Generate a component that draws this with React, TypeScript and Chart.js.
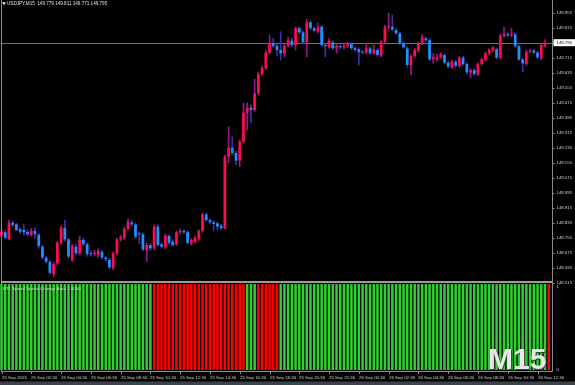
import React, { useEffect, useRef } from "react";
import { Chart, registerables } from "chart.js";

Chart.register(...registerables);

// ---------------- data ----------------
const symbolLabel = "USDJPY,M15";
const indicatorName = "BTL Speed Speed Change Area 1.0000";
const timeframeMark = "M15";

const opens = [
  148.769, 148.784, 148.748, 148.835, 148.826, 148.800, 148.796, 148.785, 148.769, 148.792,
  148.771, 148.707, 148.648, 148.627, 148.561, 148.618, 148.725, 148.808, 148.746, 148.636,
  148.707, 148.672, 148.743, 148.720, 148.672, 148.668, 148.663, 148.680, 148.648, 148.636,
  148.592, 148.672, 148.746, 148.752, 148.801, 148.837, 148.826, 148.778, 148.773, 148.689,
  148.716, 148.698, 148.814, 148.720, 148.704, 148.764, 148.734, 148.720, 148.784, 148.791,
  148.784, 148.725, 148.734, 148.746, 148.791, 148.880, 148.849, 148.837, 148.832, 148.819,
  148.805, 149.187, 149.235, 149.207, 149.166, 149.267, 149.422, 149.448, 149.436, 149.525,
  149.628, 149.660, 149.742, 149.793, 149.779, 149.756, 149.738, 149.779, 149.806, 149.783,
  149.872, 149.850, 149.797, 149.904, 149.872, 149.854, 149.880, 149.783, 149.770, 149.797,
  149.765, 149.777, 149.770, 149.777, 149.788, 149.765, 149.760, 149.747, 149.742, 149.765,
  149.738, 149.756, 149.726, 149.800, 149.877, 149.880, 149.863, 149.845, 149.792, 149.765,
  149.676, 149.724, 149.752, 149.792, 149.818, 149.809, 149.706, 149.706, 149.717, 149.729,
  149.688, 149.664, 149.694, 149.671, 149.715, 149.681, 149.635, 149.649, 149.626, 149.681,
  149.703, 149.738, 149.752, 149.760, 149.715, 149.831, 149.841, 149.834, 149.840, 149.777,
  149.706, 149.681, 149.747, 149.754, 149.742, 149.712, 149.779,
];

const highs = [
  148.801, 148.791, 148.849, 148.844, 148.832, 148.807, 148.828, 148.796, 148.805, 148.812,
  148.780, 148.716, 148.657, 148.636, 148.625, 148.737, 148.817, 148.849, 148.753, 148.721,
  148.721, 148.764, 148.753, 148.727, 148.684, 148.689, 148.696, 148.689, 148.657, 148.647,
  148.679, 148.753, 148.769, 148.812, 148.855, 148.846, 148.833, 148.787, 148.780, 148.727,
  148.725, 148.823, 148.823, 148.727, 148.775, 148.771, 148.743, 148.791, 148.801, 148.800,
  148.791, 148.750, 148.764, 148.798, 148.887, 148.887, 148.856, 148.846, 148.839, 148.828,
  149.196, 149.347, 149.294, 149.217, 149.276, 149.473, 149.475, 149.463, 149.601, 149.639,
  149.671, 149.756, 149.836, 149.818, 149.788, 149.854, 149.788, 149.825, 149.820, 149.879,
  149.879, 149.857, 149.920, 149.911, 149.879, 149.900, 149.887, 149.791, 149.815, 149.804,
  149.785, 149.783, 149.788, 149.799, 149.796, 149.772, 149.767, 149.753, 149.792, 149.772,
  149.792, 149.763, 149.807, 149.889, 149.952, 149.943, 149.870, 149.852, 149.799, 149.772,
  149.731, 149.764, 149.799, 149.841, 149.825, 149.816, 149.738, 149.735, 149.742, 149.736,
  149.696, 149.701, 149.701, 149.722, 149.722, 149.688, 149.656, 149.656, 149.688, 149.713,
  149.745, 149.763, 149.774, 149.767, 149.840, 149.880, 149.848, 149.872, 149.847, 149.784,
  149.713, 149.754, 149.761, 149.761, 149.749, 149.790, 149.811,
];

const lows = [
  148.759, 148.748, 148.743, 148.812, 148.792, 148.778, 148.769, 148.764, 148.764, 148.753,
  148.698, 148.641, 148.620, 148.561, 148.547, 148.609, 148.721, 148.737, 148.647, 148.625,
  148.663, 148.663, 148.711, 148.657, 148.657, 148.657, 148.652, 148.641, 148.631, 148.588,
  148.583, 148.663, 148.737, 148.745, 148.796, 148.817, 148.753, 148.725, 148.684, 148.627,
  148.689, 148.691, 148.709, 148.700, 148.696, 148.721, 148.709, 148.712, 148.776, 148.775,
  148.721, 148.716, 148.727, 148.739, 148.784, 148.842, 148.828, 148.791, 148.796, 148.796,
  148.800, 149.155, 149.196, 149.143, 149.134, 149.260, 149.329, 149.367, 149.428, 149.516,
  149.620, 149.652, 149.735, 149.769, 149.724, 149.703, 149.719, 149.772, 149.775, 149.756,
  149.841, 149.788, 149.720, 149.863, 149.852, 149.847, 149.775, 149.720, 149.764, 149.759,
  149.740, 149.761, 149.761, 149.769, 149.759, 149.748, 149.676, 149.735, 149.735, 149.732,
  149.732, 149.721, 149.719, 149.793, 149.868, 149.860, 149.839, 149.785, 149.764, 149.665,
  149.623, 149.716, 149.745, 149.785, 149.801, 149.700, 149.685, 149.697, 149.711, 149.681,
  149.660, 149.657, 149.665, 149.664, 149.674, 149.631, 149.607, 149.621, 149.619, 149.674,
  149.696, 149.731, 149.745, 149.708, 149.708, 149.824, 149.827, 149.827, 149.770, 149.699,
  149.640, 149.674, 149.740, 149.735, 149.710, 149.704, 149.771,
];

const closes = [
  148.787, 148.755, 148.835, 148.823, 148.796, 148.787, 148.784, 148.773, 148.791, 148.773,
  148.711, 148.650, 148.627, 148.568, 148.615, 148.728, 148.808, 148.746, 148.654, 148.711,
  148.672, 148.743, 148.720, 148.668, 148.666, 148.675, 148.684, 148.650, 148.640, 148.597,
  148.672, 148.746, 148.757, 148.801, 148.840, 148.826, 148.760, 148.773, 148.693, 148.716,
  148.698, 148.814, 148.716, 148.707, 148.764, 148.728, 148.716, 148.784, 148.792, 148.784,
  148.728, 148.743, 148.755, 148.791, 148.880, 148.849, 148.837, 148.828, 148.814, 148.805,
  149.187, 149.235, 149.207, 149.166, 149.267, 149.422, 149.448, 149.436, 149.525, 149.628,
  149.660, 149.742, 149.793, 149.777, 149.756, 149.738, 149.779, 149.809, 149.783, 149.872,
  149.850, 149.797, 149.904, 149.872, 149.859, 149.877, 149.783, 149.777, 149.806, 149.765,
  149.777, 149.770, 149.777, 149.792, 149.765, 149.756, 149.744, 149.742, 149.765, 149.738,
  149.760, 149.729, 149.800, 149.877, 149.884, 149.866, 149.845, 149.792, 149.770, 149.676,
  149.724, 149.756, 149.792, 149.822, 149.809, 149.706, 149.720, 149.717, 149.735, 149.688,
  149.667, 149.694, 149.672, 149.715, 149.681, 149.637, 149.649, 149.628, 149.681, 149.706,
  149.738, 149.756, 149.770, 149.715, 149.832, 149.841, 149.834, 149.841, 149.777, 149.706,
  149.685, 149.747, 149.754, 149.742, 149.717, 149.783, 149.795,
];

// +1 = green (speed up), -1 = red
const speedSignal = [
  1, 1, 1, 1, 1, 1, 1, 1, 1, 1,
  1, 1, 1, 1, 1, 1, 1, 1, 1, 1,
  1, 1, 1, 1, 1, 1, 1, 1, 1, 1,
  1, 1, 1, 1, 1, 1, 1, 1, 1, 1,
  1, -1, -1, -1, -1, -1, -1, -1, -1, -1,
  -1, -1, -1, -1, -1, -1, -1, -1, -1, -1,
  -1, -1, -1, -1, -1, -1, 1, 1, 1, -1,
  -1, -1, -1, -1, -1, 1, 1, 1, 1, 1,
  1, 1, 1, 1, 1, 1, 1, 1, 1, 1,
  1, 1, 1, 1, 1, 1, 1, 1, 1, 1,
  1, 1, 1, 1, 1, 1, 1, 1, 1, 1,
  1, 1, 1, 1, 1, 1, 1, 1, 1, 1,
  1, 1, 1, 1, 1, 1, 1, 1, 1, 1,
  1, 1, 1, 1, 1, 1, 1, 1, 1, 1,
  1, 1, 1, 1, 1, 1, 1, -1,
];

const priceTicks = [
  149.955, 149.875, 149.795, 149.715, 149.635, 149.555, 149.475, 149.395, 149.315, 149.235,
  149.155, 149.075, 148.995, 148.915, 148.835, 148.755, 148.675, 148.595, 148.515,
];

const timeTickLabels = [
  "25 Sep 2025", "25 Sep 02:30", "25 Sep 04:30", "25 Sep 06:30", "25 Sep 08:30",
  "25 Sep 10:30", "25 Sep 12:30", "25 Sep 14:30", "25 Sep 16:30", "25 Sep 18:30",
  "25 Sep 20:30", "25 Sep 22:30", "26 Sep 00:30", "26 Sep 02:30", "26 Sep 04:30",
  "26 Sep 06:30", "26 Sep 08:30", "26 Sep 10:30", "26 Sep 12:30",
];
const barsPerTimeTick = 8;

// categories: one per M15 bar starting 25 Sep 00:30
const categories: string[] = [];
for (let i = 0; i < speedSignal.length; i++) {
  const t = new Date(Date.UTC(2025, 8, 25, 0, 30 + 15 * i));
  categories.push(
    `${t.getUTCDate()} Sep ${String(t.getUTCHours()).padStart(2, "0")}:${String(t.getUTCMinutes()).padStart(2, "0")}`
  );
}

// ---------------- styles ----------------
const W = 575;
const H = 385;
const UP = "#ff0a4e";
const DOWN = "#1e90ff";
const UP_WICK = "#96168e";
const DOWN_WICK = "#3f2ea6";
const GREEN = "#32cd32";
const RED = "#ff0000";
const FRAME = "#8c8c8c";
const TEXT = "#d2d2d2";
const FONT = "'Liberation Sans', Arial, sans-serif";
const AXIS_X = 552.5;
const PAD_L = 1.5;
const PAD_R = 26.3;

const last = opens.length - 1;

const priceDecor = {
  id: "priceDecor",
  beforeDatasetsDraw(chart: any) {
    const { ctx, scales } = chart;
    const py = Math.round(scales.y.getPixelForValue(closes[last])) + 0.5;
    ctx.save();
    ctx.strokeStyle = "#727272";
    ctx.lineWidth = 1;
    ctx.beginPath();
    ctx.moveTo(1, py);
    ctx.lineTo(AXIS_X, py);
    ctx.stroke();
    ctx.restore();
  },
  afterDraw(chart: any) {
    const { ctx, scales } = chart;
    const y = scales.y;
    ctx.save();
    // frame
    ctx.strokeStyle = FRAME;
    ctx.lineWidth = 1;
    ctx.beginPath();
    ctx.moveTo(1.5, 0);
    ctx.lineTo(1.5, 371.5);
    ctx.moveTo(AXIS_X, 0);
    ctx.lineTo(AXIS_X, 371.5);
    ctx.moveTo(1, 371.5);
    ctx.lineTo(AXIS_X, 371.5);
    ctx.stroke();
    ctx.fillStyle = "#9a9a9a";
    ctx.fillRect(1, 281, AXIS_X - 1, 2);

    // price axis labels
    ctx.font = `4.3px ${FONT}`;
    ctx.textBaseline = "middle";
    ctx.textAlign = "left";
    for (const p of priceTicks) {
      const py = y.getPixelForValue(p);
      ctx.strokeStyle = FRAME;
      ctx.beginPath();
      ctx.moveTo(AXIS_X, Math.round(py) + 0.5);
      ctx.lineTo(AXIS_X + 2, Math.round(py) + 0.5);
      ctx.stroke();
      ctx.fillStyle = TEXT;
      ctx.fillText(p.toFixed(3), 556.5, py);
    }
    // current price box
    const cy = y.getPixelForValue(closes[last]);
    ctx.fillStyle = "#ffffff";
    ctx.fillRect(553.5, cy - 3.5, 21.5, 7);
    ctx.fillStyle = "#000000";
    ctx.fillText(closes[last].toFixed(3), 556.5, cy);

    // title
    ctx.fillStyle = "#e0e0e0";
    ctx.beginPath();
    ctx.moveTo(2, 2.2);
    ctx.lineTo(6, 2.2);
    ctx.lineTo(4, 5.2);
    ctx.closePath();
    ctx.fill();
    ctx.font = `4.6px ${FONT}`;
    ctx.fillText(
      `${symbolLabel}  ${opens[last].toFixed(3)} ${highs[last].toFixed(3)} ${lows[last].toFixed(3)} ${closes[last].toFixed(3)}`,
      7,
      3.9
    );
    ctx.restore();
  },
};

const speedDecor = {
  id: "speedDecor",
  afterDraw(chart: any) {
    const { ctx, scales } = chart;
    const x = scales.x;
    ctx.save();
    ctx.font = `4.4px ${FONT}`;
    ctx.textBaseline = "middle";
    ctx.textAlign = "left";
    ctx.fillStyle = "#d8d8d8";
    ctx.fillText(indicatorName, 3, 288.6);
    ctx.fillStyle = TEXT;
    ctx.fillText("1", 556.5, 287);
    ctx.fillText("0", 556.5, 370);

    // time axis
    timeTickLabels.forEach((lab, k) => {
      const px = Math.round(x.getPixelForValue(k * barsPerTimeTick)) + 0.5;
      ctx.strokeStyle = FRAME;
      ctx.lineWidth = 1;
      ctx.beginPath();
      ctx.moveTo(px, 371.5);
      ctx.lineTo(px, 374);
      ctx.stroke();
      ctx.fillStyle = TEXT;
      ctx.fillText(lab, Math.max(px - 0.5, 1), 377.6);
    });

    // timeframe watermark
    ctx.font = `bold 30px ${FONT}`;
    ctx.textBaseline = "alphabetic";
    ctx.fillStyle = "rgba(60,60,60,0.85)";
    ctx.fillText(timeframeMark, 489, 369.5);
    ctx.fillStyle = "#e8e8e8";
    ctx.fillText(timeframeMark, 488, 368.5);

    // bottom strip
    ctx.fillStyle = "#3c4449";
    ctx.fillRect(0, 381.5, W, H - 381.5);
    ctx.restore();
  },
};

export default function App() {
  const priceRef = useRef<HTMLCanvasElement>(null);
  const speedRef = useRef<HTMLCanvasElement>(null);

  useEffect(() => {
    document.body.style.margin = "0";
    document.body.style.background = "#000";

    const bodies = categories.map((_, i) => (i < opens.length ? [opens[i], closes[i]] : null));
    const wicks = categories.map((_, i) => (i < opens.length ? [lows[i], highs[i]] : null));
    const bodyColors = categories.map((_, i) =>
      i < opens.length ? (closes[i] >= opens[i] ? UP : DOWN) : "rgba(0,0,0,0)"
    );
    const wickColors = categories.map((_, i) =>
      i < opens.length ? (closes[i] >= opens[i] ? UP_WICK : DOWN_WICK) : "rgba(0,0,0,0)"
    );

    const price = new Chart(priceRef.current as HTMLCanvasElement, {
      type: "bar",
      data: {
        labels: categories,
        datasets: [
          {
            data: bodies as any,
            backgroundColor: bodyColors,
            barPercentage: 0.74,
            categoryPercentage: 1,
            grouped: false,
            minBarLength: 1,
            borderWidth: 0,
            order: 0,
            clip: false as any,
          },
          {
            data: wicks as any,
            backgroundColor: wickColors,
            barThickness: 1,
            grouped: false,
            minBarLength: 1,
            borderWidth: 0,
            order: 1,
            clip: false as any,
          },
        ],
      },
      options: {
        responsive: false,
        animation: false,
        events: [],
        layout: { padding: { left: PAD_L, right: PAD_R, top: 1, bottom: H - 282 } },
        plugins: { legend: { display: false }, tooltip: { enabled: false } },
        scales: {
          x: { type: "category", display: false, offset: false },
          y: { type: "linear", display: false, min: 148.5187, max: 150.0174 },
        },
      },
      plugins: [priceDecor],
    });

    const speed = new Chart(speedRef.current as HTMLCanvasElement, {
      type: "bar",
      data: {
        labels: categories,
        datasets: [
          {
            data: speedSignal.map((v) => Math.abs(v)),
            backgroundColor: speedSignal.map((v) => (v > 0 ? GREEN : RED)),
            barPercentage: 0.68,
            categoryPercentage: 1,
            borderWidth: 0,
            clip: false as any,
          },
        ],
      },
      options: {
        responsive: false,
        animation: false,
        events: [],
        layout: { padding: { left: PAD_L, right: PAD_R, top: 284, bottom: H - 370 } },
        plugins: { legend: { display: false }, tooltip: { enabled: false } },
        scales: {
          x: { type: "category", display: false, offset: false },
          y: { type: "linear", display: false, min: 0, max: 1 },
        },
      },
      plugins: [speedDecor],
    });

    return () => {
      price.destroy();
      speed.destroy();
    };
  }, []);

  return (
    <div
      style={{
        position: "fixed",
        left: 0,
        top: 0,
        width: W,
        height: H,
        background: "#000",
        overflow: "hidden",
      }}
    >
      <canvas ref={speedRef} width={W} height={H} style={{ position: "absolute", left: 0, top: 0 }} />
      <canvas ref={priceRef} width={W} height={H} style={{ position: "absolute", left: 0, top: 0 }} />
    </div>
  );
}
